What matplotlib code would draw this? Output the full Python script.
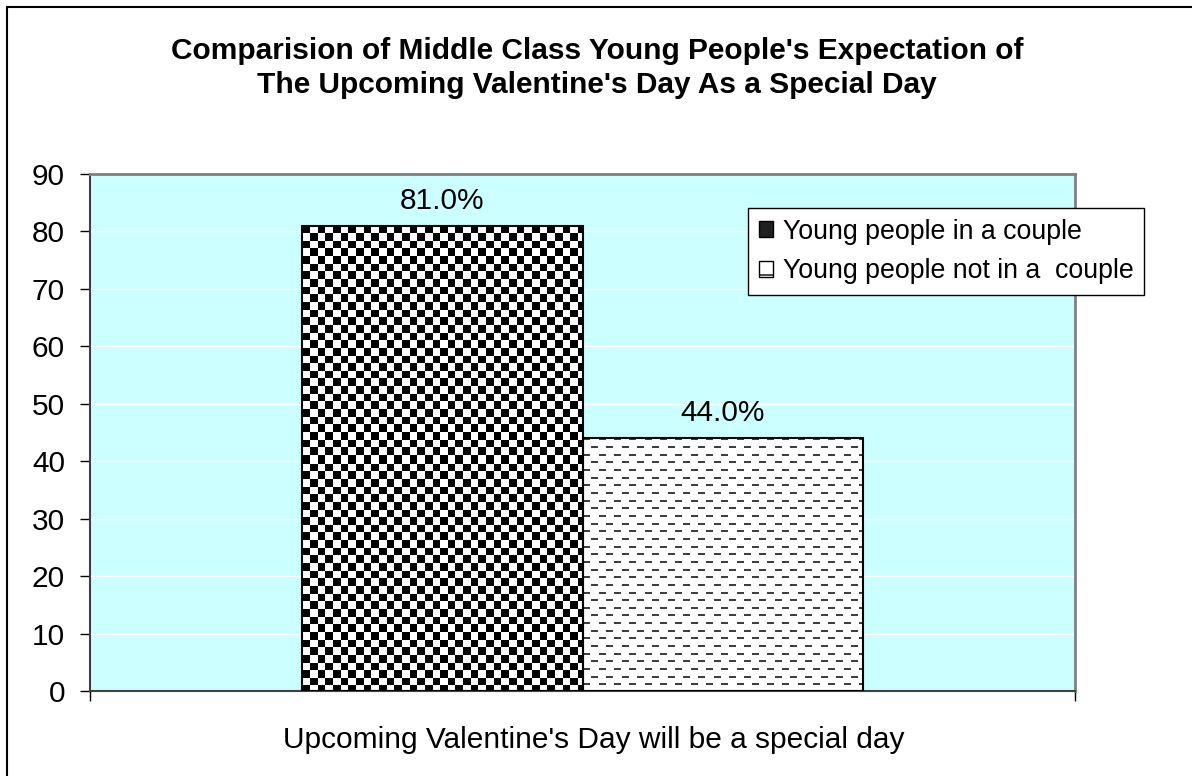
import numpy as np
import matplotlib
matplotlib.use("Agg")
import matplotlib.pyplot as plt
from matplotlib.patches import Patch, Rectangle

# ── datos ────────────────────────────────────
categoria = "Upcoming Valentine's Day will be a special day"
series = ["Young people in a couple", "Young people not in a  couple"]
valores = [81.0, 44.0]
etiquetas = ["81.0%", "44.0%"]
yticks = list(range(0, 100, 10))

titulo = ("Comparision of Middle Class Young People's Expectation of\n"
          "The Upcoming Valentine's Day As a Special Day")

plt.rcParams["font.family"] = ["Liberation Sans", "DejaVu Sans"]

W, H = 1192, 776
fig = plt.figure(figsize=(W / 100, H / 100), dpi=100, facecolor="white")

# marco exterior del gráfico
fig.patches.append(Rectangle((7 / W, -0.1), 1.2, 1 - 7 / H + 0.1,
                             transform=fig.transFigure, fill=False,
                             edgecolor="black", linewidth=1.5))

ax = fig.add_axes([90 / W, 1 - 691 / H, (1075 - 90) / W, 517 / H])
ax.set_facecolor("#CCFFFF")
ax.set_xlim(-0.5, 0.5)
ax.set_ylim(0, 90)
ax.set_yticks(yticks)
ax.set_xticks([-0.5, 0.5])
ax.set_xticklabels(["", ""])
ax.tick_params(axis="y", direction="out", length=7, width=1, labelsize=21.5, pad=11)
ax.tick_params(axis="x", direction="out", length=7, width=1)
ax.yaxis.grid(True, color="white", linewidth=1)
ax.set_axisbelow(True)
for s in ["top", "right"]:
    ax.spines[s].set_color("#808080")
    ax.spines[s].set_linewidth(2)
ax.spines["left"].set_color("#404040")
ax.spines["bottom"].set_color("#404040")
ax.spines["left"].set_linewidth(1.5)
ax.spines["bottom"].set_linewidth(1.5)

ancho = 0.285
xs = [-ancho / 2, ancho / 2]
barras = ax.bar(xs, valores, width=ancho, facecolor="none",
                edgecolor="black", linewidth=1.5, zorder=3)

# patrones de relleno (cuadros y guiones) dibujados dentro de cada barra
fig.canvas.draw()
celda = 7.65


def patron(tipo, hpx, wpx):
    ii, jj = np.mgrid[0:hpx, 0:wpx]
    if tipo == "cuadros":
        return ((np.floor(ii / celda) + np.floor(jj / celda)) % 2 == 0).astype(float)
    fila = np.floor(ii / celda)
    en_fila = (ii % celda) < 2
    fase = (jj + (fila % 2) * celda) % (2 * celda) < 7
    arr = np.ones((hpx, wpx))
    arr[en_fila & fase] = 0.25
    return 1 - arr


for bar, tipo in zip(barras, ["cuadros", "guiones"]):
    x0, y0 = bar.get_x(), bar.get_y()
    x1, y1 = x0 + bar.get_width(), y0 + bar.get_height()
    p0 = ax.transData.transform((x0, y0))
    p1 = ax.transData.transform((x1, y1))
    wpx = int(round(abs(p1[0] - p0[0])))
    hpx = int(round(abs(p1[1] - p0[1])))
    img = ax.imshow(patron(tipo, hpx, wpx), cmap="gray_r", vmin=0, vmax=1,
                    extent=(x0, x1, y0, y1), origin="upper",
                    interpolation="nearest", aspect="auto", zorder=2)
    img.set_clip_path(bar)
ax.set_xlim(-0.5, 0.5)
ax.set_ylim(0, 90)

for bar, txt in zip(barras, etiquetas):
    ax.annotate(txt, (bar.get_x() + bar.get_width() / 2, bar.get_height()),
                xytext=(0, 18), textcoords="offset points",
                ha="center", va="center", fontsize=21.5)

fig.text(597 / W, 1 - 68 / H, titulo, ha="center", va="center",
         fontsize=21.5, fontweight="bold", linespacing=1.25)
fig.text(594 / W, 1 - 740 / H, categoria, ha="center", va="center", fontsize=21.5)

handles = [Patch(facecolor="#202020", edgecolor="black", label=series[0]),
           Patch(facecolor="white", edgecolor="black", hatch="-", label=series[1])]
leg = fig.legend(handles=handles, loc="upper left",
                 bbox_to_anchor=(748 / W, 1 - 208 / H), fontsize=19.3,
                 frameon=True, fancybox=False, framealpha=1,
                 edgecolor="black", handlelength=0.55, handleheight=0.55,
                 handletextpad=0.35, borderpad=0.4, labelspacing=0.5,
                 borderaxespad=0)
leg.get_frame().set_linewidth(1)

fig.savefig("out.png", dpi=100, facecolor="white")
